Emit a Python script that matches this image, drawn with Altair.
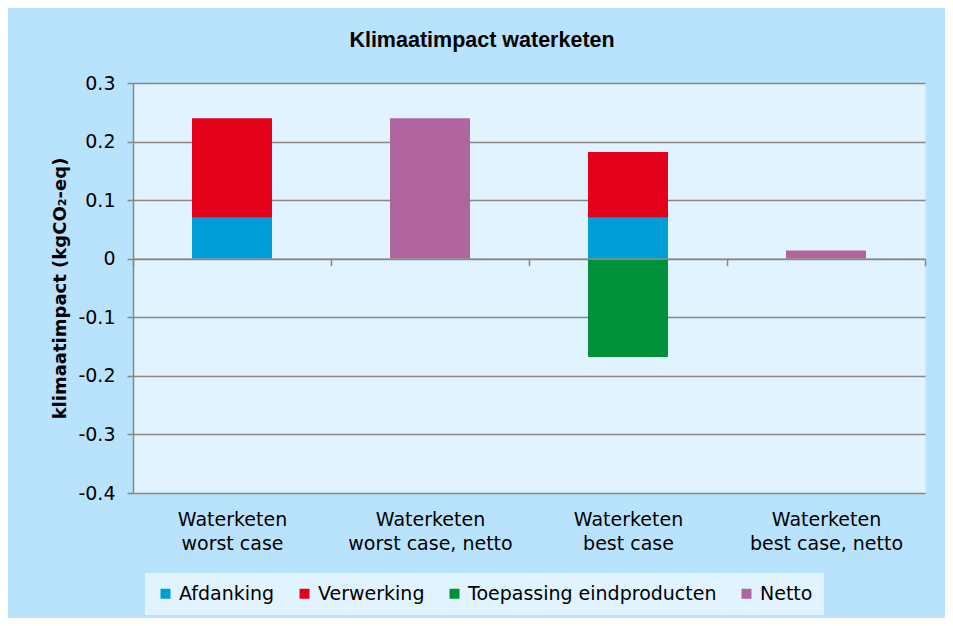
import altair as alt
import pandas as pd

categories = ["Waterketen worst case", "Waterketen worst case, netto",
              "Waterketen best case", "Waterketen best case, netto"]
components = ["Afdanking", "Verwerking", "Toepassing eindproducten", "Netto"]
colors = ["#009ed9", "#e2001a", "#00913a", "#b0659f"]

afdanking = [0.07, 0.0, 0.07, 0.0]
verwerking = [0.17, 0.0, 0.112, 0.0]
toepassing = [0.0, 0.0, -0.168, 0.0]
netto = [0.0, 0.24, 0.0, 0.014]
y_ticks = [-0.4, -0.3, -0.2, -0.1, 0, 0.1, 0.2, 0.3]

rows = []
for comp_i, series in enumerate([afdanking, verwerking, toepassing, netto]):
    for cat, v in zip(categories, series):
        if v != 0:
            rows.append({"category": cat, "component": components[comp_i],
                         "value": v, "order": comp_i})
df = pd.DataFrame(rows)

GRAY = "#888888"

chart = alt.Chart(df).mark_bar(size=80).encode(
    x=alt.X("category:N", sort=categories,
            scale=alt.Scale(paddingInner=0, paddingOuter=0),
            axis=alt.Axis(title=None, orient="bottom", offset=-234.3,
                          domainColor=GRAY, domainWidth=1.5,
                          ticks=True, tickBand="extent", tickSize=7,
                          tickColor=GRAY, tickWidth=1.5,
                          labelPadding=245, labelFont="DejaVu Sans",
                          labelFontSize=19, labelColor="#000",
                          labelLineHeight=24, labelLimit=400, labelAngle=0,
                          labelExpr="datum.label ? ['Waterketen', substring(datum.label, 11)] : ''",
                          grid=False, zindex=1)),
    y=alt.Y("value:Q", stack="zero",
            scale=alt.Scale(domain=[-0.4, 0.3], nice=False, zero=False),
            axis=alt.Axis(values=y_ticks,
                          labelExpr="datum.value == 0 ? '0' : (datum.value < 0 ? '-' : '') + format(abs(datum.value), '.1f')",
                          tickSize=6, tickColor=GRAY, tickWidth=1.5,
                          domainColor=GRAY, domainWidth=1.5,
                          grid=True, gridColor=GRAY, gridWidth=1.5,
                          labelFont="DejaVu Sans", labelFontSize=19,
                          labelColor="#000", labelPadding=12,
                          title="klimaatimpact (kgCO₂-eq)",
                          titleFont="DejaVu Sans", titleFontSize=18,
                          titleFontWeight="bold", titleColor="#000",
                          titlePadding=8)),
    color=alt.Color("component:N",
                    scale=alt.Scale(domain=components, range=colors),
                    legend=alt.Legend(orient="none", legendX=12, legendY=490,
                                      direction="horizontal", title=None,
                                      symbolType="square", symbolSize=100,
                                      symbolStrokeWidth=0,
                                      labelFont="DejaVu Sans", labelFontSize=19,
                                      labelColor="#000", labelOffset=4,
                                      columnPadding=20, fillColor="#e0f3fe",
                                      padding=11, labelLimit=400)),
    order=alt.Order("order:Q"),
).properties(
    width=792,
    height=410,
    title=alt.TitleParams("Klimaatimpact waterketen", font="Liberation Sans",
                          fontSize=21.5, fontWeight="bold", color="#000",
                          anchor="middle", dx=-47, offset=23),
    autosize=alt.AutoSizeParams(type="none"),
    padding={"left": 125, "top": 75, "right": 20, "bottom": 125},
).configure(
    background="#b9e3fd",
).configure_view(
    fill="#e0f3fe",
    stroke="transparent",
)

chart.save("out.html", embed_options={"renderer": "svg", "actions": False})
